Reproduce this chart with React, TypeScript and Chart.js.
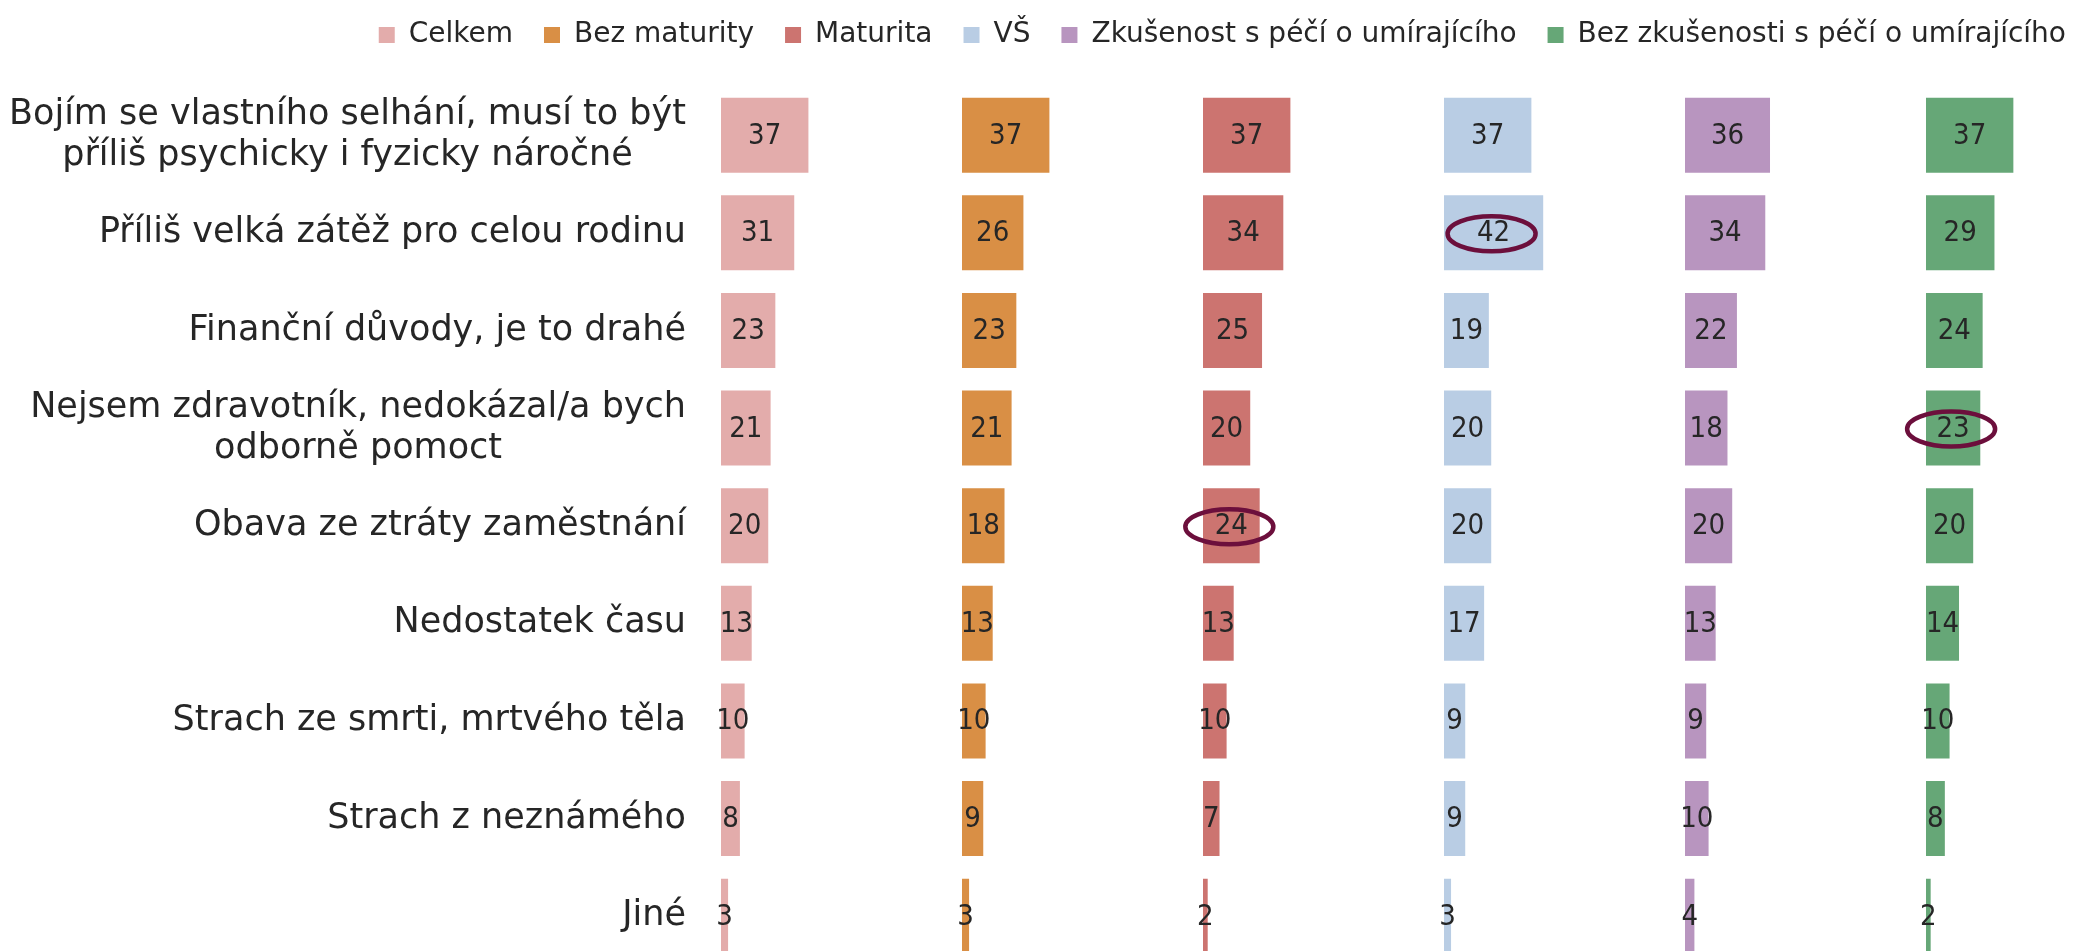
import React, { useEffect, useRef } from "react";
import { Chart, registerables } from "chart.js";

Chart.register(...registerables);

const CATEGORIES: (string | string[])[] = [
  ["Bojím se vlastního selhání, musí to být", "příliš psychicky i fyzicky náročné"],
  "Příliš velká zátěž pro celou rodinu",
  "Finanční důvody, je to drahé",
  ["Nejsem zdravotník, nedokázal/a bych", "odborně pomoct"],
  "Obava ze ztráty zaměstnání",
  "Nedostatek času",
  "Strach ze smrti, mrtvého těla",
  "Strach z neznámého",
  "Jiné",
];

const SERIES_NAMES = [
  "Celkem",
  "Bez maturity",
  "Maturita",
  "VŠ",
  "Zkušenost s péčí o umírajícího",
  "Bez zkušenosti s péčí o umírajícího",
];

const CELKEM = [37, 31, 23, 21, 20, 13, 10, 8, 3];
const BEZ_MATURITY = [37, 26, 23, 21, 18, 13, 10, 9, 3];
const MATURITA = [37, 34, 25, 20, 24, 13, 10, 7, 2];
const VS = [37, 42, 19, 20, 20, 17, 9, 9, 3];
const ZKUSENOST = [36, 34, 22, 18, 20, 13, 9, 10, 4];
const BEZ_ZKUSENOSTI = [37, 29, 24, 23, 20, 14, 10, 8, 2];

const SERIES_VALUES = [CELKEM, BEZ_MATURITY, MATURITA, VS, ZKUSENOST, BEZ_ZKUSENOSTI];

// highlighted cells: [series index, category index]
const HIGHLIGHTS: [number, number][] = [
  [3, 1],
  [5, 3],
  [2, 4],
];

const COLORS = ["#E3ACAB", "#D98F45", "#CC7470", "#B9CDE4", "#B895BF", "#66A777"];
const PANEL_MAX = [102, 102, 102, 102, 102, 72.4];

const TEXT_COLOR = "#262626";
const LABEL_FONT = "'DejaVu Sans Condensed', 'DejaVu Sans', sans-serif";

// center the lines of multi-line category labels under each other
const centerMultiline = {
  id: "centerMultiline",
  beforeDraw(chart: any) {
    const scale = chart.scales.y;
    if (!scale || !scale.getLabelItems) return;
    const items = scale.getLabelItems(chart.chartArea);
    const ctx = chart.ctx;
    items.forEach((it: any) => {
      if (Array.isArray(it.label) && it.options && it.options.textAlign === "right") {
        ctx.save();
        ctx.font = it.font.string;
        const w = Math.max(...it.label.map((l: string) => ctx.measureText(l).width));
        ctx.restore();
        it.options.textAlign = "center";
        it.options.translation = [it.options.translation[0] - w / 2, it.options.translation[1]];
      }
    });
  },
};

const valueLabels = {
  id: "valueLabels",
  afterDatasetsDraw(chart: any) {
    const ctx = chart.ctx;
    ctx.save();
    ctx.font = `29px ${LABEL_FONT}`;
    ctx.fillStyle = TEXT_COLOR;
    ctx.textAlign = "center";
    ctx.textBaseline = "middle";
    chart.data.datasets.forEach((ds: any, di: number) => {
      const meta = chart.getDatasetMeta(di);
      meta.data.forEach((el: any, i: number) => {
        const cx = (el.x + el.base) / 2;
        ctx.fillText(String(ds.data[i]), cx, el.y + 1);
      });
    });
    ctx.strokeStyle = "#6C0F3C";
    ctx.lineWidth = 4.5;
    HIGHLIGHTS.forEach(([s, i]) => {
      const el = chart.getDatasetMeta(s).data[i];
      if (!el) return;
      const cx = (el.x + el.base) / 2;
      ctx.beginPath();
      ctx.ellipse(cx - 2, el.y + 1, 44, 17.5, 0, 0, Math.PI * 2);
      ctx.stroke();
    });
    ctx.restore();
  },
};

export default function App() {
  const ref = useRef<HTMLCanvasElement | null>(null);

  useEffect(() => {
    document.body.style.margin = "0";
    document.body.style.overflow = "hidden";
    document.documentElement.style.overflow = "hidden";
    const canvas = ref.current;
    if (!canvas) return;

    const scales: any = {
      y: {
        type: "category",
        offset: true,
        grid: { display: false, drawTicks: false },
        border: { display: false },
        ticks: {
          padding: 35,
          color: TEXT_COLOR,
          font: { family: "'DejaVu Sans', sans-serif", size: 35, lineHeight: 1.17 },
          autoSkip: false,
        },
        afterFit: (s: any) => {
          s.width = 721;
          s.paddingTop = 0;
          s.paddingBottom = 0;
        },
      },
    };
    // inserted in reverse so that the first panel is placed leftmost
    for (let k = PANEL_MAX.length - 1; k >= 0; k--) {
      const m = PANEL_MAX[k];
      scales["x" + k] = {
        type: "linear",
        position: "top",
        stack: "panels",
        stackWeight: m,
        min: 0,
        max: m,
        display: false,
        afterFit: (s: any) => {
          s.height = 27.4;
        },
      };
    }

    const chart = new Chart(canvas, {
      type: "bar",
      data: {
        labels: CATEGORIES,
        datasets: SERIES_VALUES.map((vals, k) => ({
          label: SERIES_NAMES[k],
          data: vals,
          backgroundColor: COLORS[k],
          borderWidth: 0,
          xAxisID: "x" + k,
          grouped: false,
          categoryPercentage: 1,
          barPercentage: 0.768,
        })),
      },
      options: {
        indexAxis: "y",
        animation: false,
        responsive: false,
        maintainAspectRatio: false,
        layout: { padding: { top: -10, right: 0, left: 0, bottom: 0 } },
        scales,
        plugins: {
          legend: {
            position: "top",
            align: "end",
            labels: {
              boxWidth: 16,
              boxHeight: 16,
              padding: 31,
              color: TEXT_COLOR,
              font: { family: "'DejaVu Sans', sans-serif", size: 28 },
            },
          },
          tooltip: { enabled: false },
        },
      },
      plugins: [centerMultiline, valueLabels],
    });
    return () => chart.destroy();
  }, []);

  return (
    <div style={{ width: 2097, height: 965, overflow: "hidden" }}>
      <canvas ref={ref} width={2097} height={965} style={{ display: "block" }} />
    </div>
  );
}
